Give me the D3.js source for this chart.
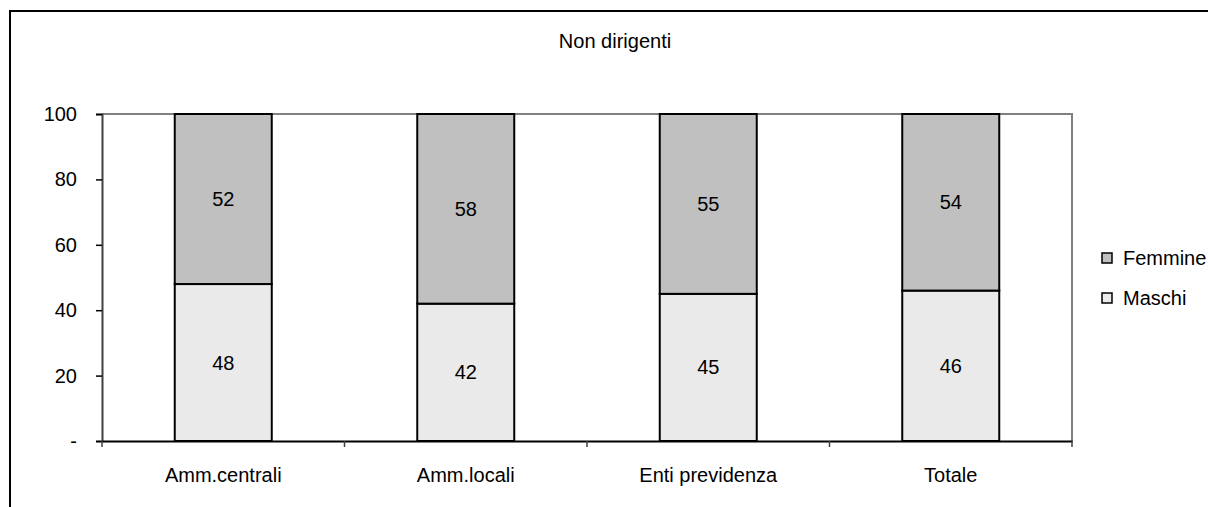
<!DOCTYPE html>
<html>
<head>
<meta charset="utf-8">
<script src="https://cdn.jsdelivr.net/npm/d3@7"></script>
<style>
  body { margin: 0; background: #fff; }
  text { font-family: Arial, "Liberation Sans", sans-serif; fill: #000; }
</style>
</head>
<body>
<div id="main"></div>
<script>
// chart data
var categories = ["Amm.centrali", "Amm.locali", "Enti previdenza", "Totale"];
var maschi = [48, 42, 45, 46];
var femmine = [52, 58, 55, 54];
var yTicks = [0, 20, 40, 60, 80, 100];
var seriesNames = ["Femmine", "Maschi"];

var ctx = {
    w: 1208,
    h: 507,
    left: 102,
    right: 1072,
    top: 114,
    bottom: 441,
    fontSize: 20
};

var colors = { Femmine: "#c0c0c0", Maschi: "#eaeaea" };

var svg = d3.select("#main").append("svg")
    .attr("width", ctx.w)
    .attr("height", ctx.h);

// outer chart frame (runs off the right and bottom edges)
svg.append("rect")
    .attr("x", 10).attr("y", 11)
    .attr("width", 1300).attr("height", 600)
    .attr("fill", "none").attr("stroke", "#000").attr("stroke-width", 2);

var x = d3.scaleBand()
    .domain(categories)
    .range([ctx.left, ctx.right])
    .paddingInner(0.6)
    .paddingOuter(0.3);

var band = d3.scaleBand().domain(categories).range([ctx.left, ctx.right]);

var y = d3.scaleLinear().domain([0, 100]).range([ctx.bottom, ctx.top]);

// title, centred on the whole chart frame
svg.append("text")
    .attr("x", 615)
    .attr("y", 48)
    .attr("text-anchor", "middle")
    .style("font-size", ctx.fontSize + "px")
    .text("Non dirigenti");

// plot area top/right border
svg.append("path")
    .attr("d", "M" + ctx.left + "," + ctx.top + "H" + ctx.right + "V" + ctx.bottom)
    .attr("fill", "none").attr("stroke", "#808080").attr("stroke-width", 2);

// stacked data
var rows = categories.map(function(c, i) {
    return { cat: c, Maschi: maschi[i], Femmine: femmine[i] };
});
var stack = d3.stack().keys(["Maschi", "Femmine"])(rows);

var groups = svg.selectAll(".serie")
    .data(stack)
    .enter().append("g")
    .attr("class", "serie");

groups.selectAll("rect")
    .data(function(d) { return d.map(function(p) { return { key: d.key, p: p }; }); })
    .enter().append("rect")
    .attr("x", function(d) { return x(d.p.data.cat); })
    .attr("width", x.bandwidth())
    .attr("y", function(d) { return y(d.p[1]); })
    .attr("height", function(d) { return y(d.p[0]) - y(d.p[1]); })
    .attr("fill", function(d) { return colors[d.key]; })
    .attr("stroke", "#000")
    .attr("stroke-width", 2);

groups.selectAll("text")
    .data(function(d) { return d.map(function(p) { return { key: d.key, p: p }; }); })
    .enter().append("text")
    .attr("x", function(d) { return x(d.p.data.cat) + x.bandwidth() / 2; })
    .attr("y", function(d) { return (y(d.p[0]) + y(d.p[1])) / 2; })
    .attr("dy", "0.35em")
    .attr("text-anchor", "middle")
    .style("font-size", ctx.fontSize + "px")
    .text(function(d) { return d.p.data[d.key]; });

// y axis
var yAxis = svg.append("g")
    .attr("transform", "translate(" + ctx.left + ",0)")
    .call(d3.axisLeft(y).tickValues(yTicks).tickSize(6).tickPadding(19)
        .tickFormat(function(d) { return d === 0 ? "-" : d; }));
yAxis.select(".domain").attr("stroke", "#404040").attr("stroke-width", 2);
yAxis.selectAll(".tick line").attr("stroke", "#000").attr("stroke-width", 1.5);
yAxis.selectAll(".tick text")
    .style("font-size", ctx.fontSize + "px")
    .style("font-family", "Arial, 'Liberation Sans', sans-serif");

// x axis
var xAxis = svg.append("g")
    .attr("transform", "translate(0," + ctx.bottom + ")")
    .call(d3.axisBottom(band).tickSize(0).tickPadding(27));
xAxis.select(".domain").attr("stroke", "#000").attr("stroke-width", 2);
xAxis.selectAll(".tick text")
    .style("font-size", ctx.fontSize + "px")
    .style("font-family", "Arial, 'Liberation Sans', sans-serif");

// x tick marks between categories
var edges = categories.map(function(c) { return band(c); }).concat([ctx.right]);
svg.selectAll(".xtick")
    .data(edges)
    .enter().append("line")
    .attr("x1", function(d) { return d; }).attr("x2", function(d) { return d; })
    .attr("y1", ctx.bottom).attr("y2", ctx.bottom + 6)
    .attr("stroke", "#404040").attr("stroke-width", 1.5);

// legend
var legend = svg.selectAll(".legend")
    .data(seriesNames)
    .enter().append("g")
    .attr("transform", function(d, i) { return "translate(1102," + (258 + i * 40) + ")"; });
legend.append("rect")
    .attr("x", 0).attr("y", -5)
    .attr("width", 10).attr("height", 10)
    .attr("fill", function(d) { return colors[d]; })
    .attr("stroke", "#000").attr("stroke-width", 1.5);
legend.append("text")
    .attr("x", 21).attr("dy", "0.35em")
    .style("font-size", ctx.fontSize + "px")
    .text(function(d) { return d; });
</script>
</body>
</html>
